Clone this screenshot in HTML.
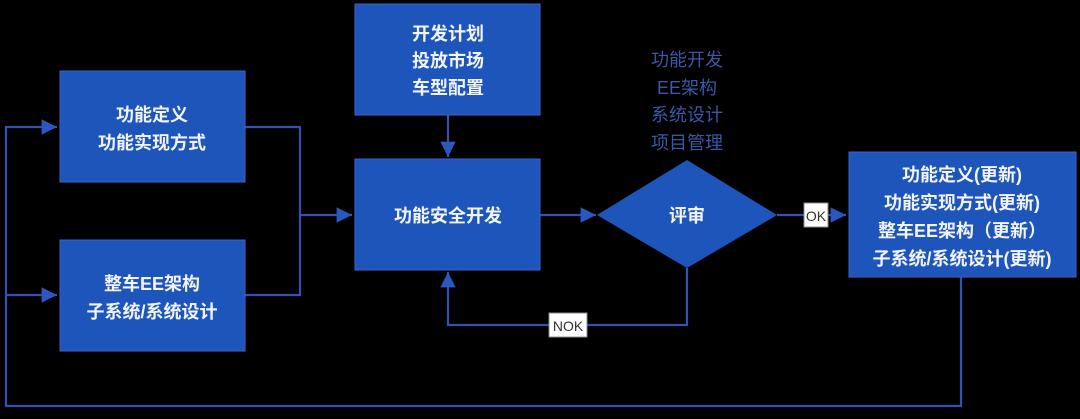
<!DOCTYPE html>
<html><head><meta charset="utf-8"><style>
html,body{margin:0;padding:0;background:#000;}
body{width:1080px;height:419px;overflow:hidden;position:relative;font-family:"Liberation Sans","Noto Sans CJK SC",sans-serif;}
svg{position:absolute;left:0;top:0;}
</style></head><body>
<svg width="1080" height="419" viewBox="0 0 1080 419" xmlns="http://www.w3.org/2000/svg">
<defs>
<marker id="a" viewBox="0 0 10 10" refX="10" refY="5" markerWidth="7" markerHeight="7" orient="auto" markerUnits="strokeWidth">
<path d="M0,0L10,5L0,10z" fill="#2a58c0"/></marker>
</defs>
<g fill="none" stroke="#3450b0" stroke-width="2.2">
<path d="M961,277V406H6V127H57" marker-end="url(#a)"/>
<path d="M6,295H57" marker-end="url(#a)"/>
<path d="M245,127H300V295H245"/>
<path d="M300,215H352" marker-end="url(#a)"/>
<path d="M448,115V157" marker-end="url(#a)"/>
<path d="M540,215H596" marker-end="url(#a)"/>
<path d="M777,215H846" marker-end="url(#a)"/>
<path d="M687,268V325H448V272" marker-end="url(#a)"/>
</g>
<g fill="#1e55ba" stroke="#3a64c8" stroke-width="1">
<rect x="60" y="71" width="185" height="111"/>
<rect x="60" y="240" width="185" height="111"/>
<rect x="355" y="4" width="185" height="111"/>
<rect x="355" y="159" width="185" height="111"/>
<rect x="849" y="152" width="227" height="125"/>
<path d="M597,215L687,160L777,215L687,268z" stroke="none"/>
</g>
<g fill="#fff" stroke="#888" stroke-width="1">
<rect x="804" y="203" width="24" height="24"/>
<rect x="549" y="313" width="38" height="24"/>
</g>
<g font-family="Liberation Sans, Noto Sans CJK SC, sans-serif" text-anchor="middle" fill="#f2f4fa" font-size="18" font-weight="bold">
<text x="152" y="121">功能定义</text>
<text x="152" y="149">功能实现方式</text>
<text x="152" y="290">整车EE架构</text>
<text x="152" y="318">子系统/系统设计</text>
<text x="448" y="40">开发计划</text>
<text x="448" y="67">投放市场</text>
<text x="448" y="94">车型配置</text>
<text x="448" y="222">功能安全开发</text>
<text x="687" y="222">评审</text>
<text x="962" y="181">功能定义(更新)</text>
<text x="962" y="209">功能实现方式(更新)</text>
<text x="962" y="237">整车EE架构（更新）</text>
<text x="962" y="265">子系统/系统设计(更新)</text>
</g>
<g font-family="Liberation Sans, Noto Sans CJK SC, sans-serif" text-anchor="middle" fill="#3a58a8" font-size="18">
<text x="687" y="66">功能开发</text>
<text x="687" y="94">EE架构</text>
<text x="687" y="121">系统设计</text>
<text x="687" y="149">项目管理</text>
</g>
<g font-family="Liberation Sans, sans-serif" text-anchor="middle" fill="#333" font-size="14">
<text x="816" y="221">OK</text>
<text x="568" y="331">NOK</text>
</g>
</svg>
</body></html>
